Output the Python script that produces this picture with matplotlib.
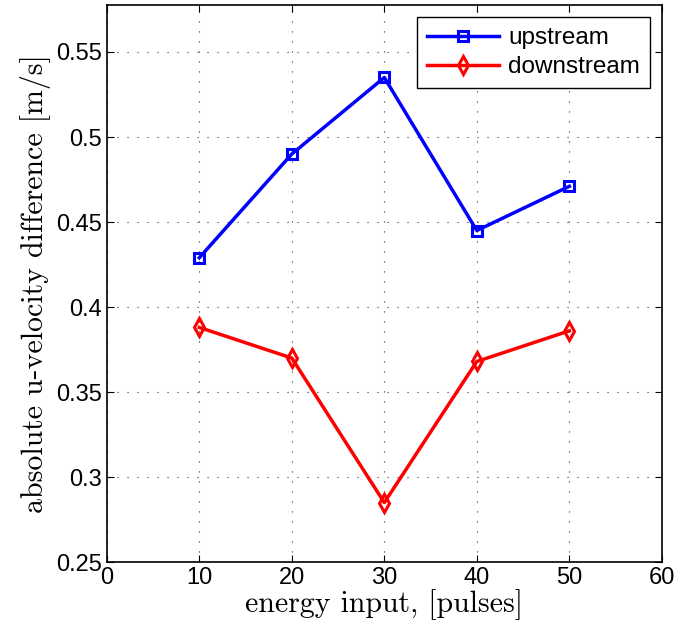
import numpy as np
import matplotlib
matplotlib.use("Agg")
import matplotlib.pyplot as plt

energy = [10, 20, 30, 40, 50]
upstream = [0.429, 0.490, 0.535, 0.445, 0.471]
downstream = [0.388, 0.370, 0.285, 0.368, 0.386]

xticks = [0, 10, 20, 30, 40, 50, 60]
yticks = [0.25, 0.3, 0.35, 0.4, 0.45, 0.5, 0.55]
ytick_labels = ["0.25", "0.3", "0.35", "0.4", "0.45", "0.5", "0.55"]

plt.rcParams["font.family"] = ["Liberation Sans", "DejaVu Sans"]

fig = plt.figure(figsize=(6.76, 6.33), dpi=100)
ax = fig.add_axes([0.158, 0.112, 0.821, 0.880])

ax.plot(energy, upstream, color="#0000ff", lw=2.5, marker="s", ms=7,
        mfc="none", mec="#0000ff", mew=2.2, label="upstream")
ax.plot(energy, downstream, color="#ff0000", lw=2.5, marker="d", ms=9,
        mfc="none", mec="#ff0000", mew=2.2, label="downstream")

ax.set_xlim(0, 60)
ax.set_ylim(0.25, 0.5776)
ax.set_xticks(xticks)
ax.set_yticks(yticks)
ax.set_yticklabels(ytick_labels)
ax.tick_params(direction="in", top=True, right=True, labelsize=17, length=5, width=0.8)
ax.grid(True, linestyle=(0, (1, 8)), color="#333333", lw=0.8)
for s in ax.spines.values():
    s.set_linewidth(1.2)

serif = ["cmr10", "DejaVu Serif"]
ax.set_xlabel("energy input, [pulses]", fontsize=21.5, family=serif, labelpad=0)
ax.set_ylabel("absolute u-velocity difference [m/s]", fontsize=21.5, family=serif, labelpad=4)

leg = ax.legend(loc="upper right", fontsize=17.5, fancybox=False, framealpha=1,
                edgecolor="black", handlelength=3.0, borderpad=0.4, labelspacing=0.3,
                handletextpad=0.35, borderaxespad=0, bbox_to_anchor=(0.978, 0.978))
leg.get_frame().set_linewidth(1.0)

fig.savefig("out.png", dpi=100)
